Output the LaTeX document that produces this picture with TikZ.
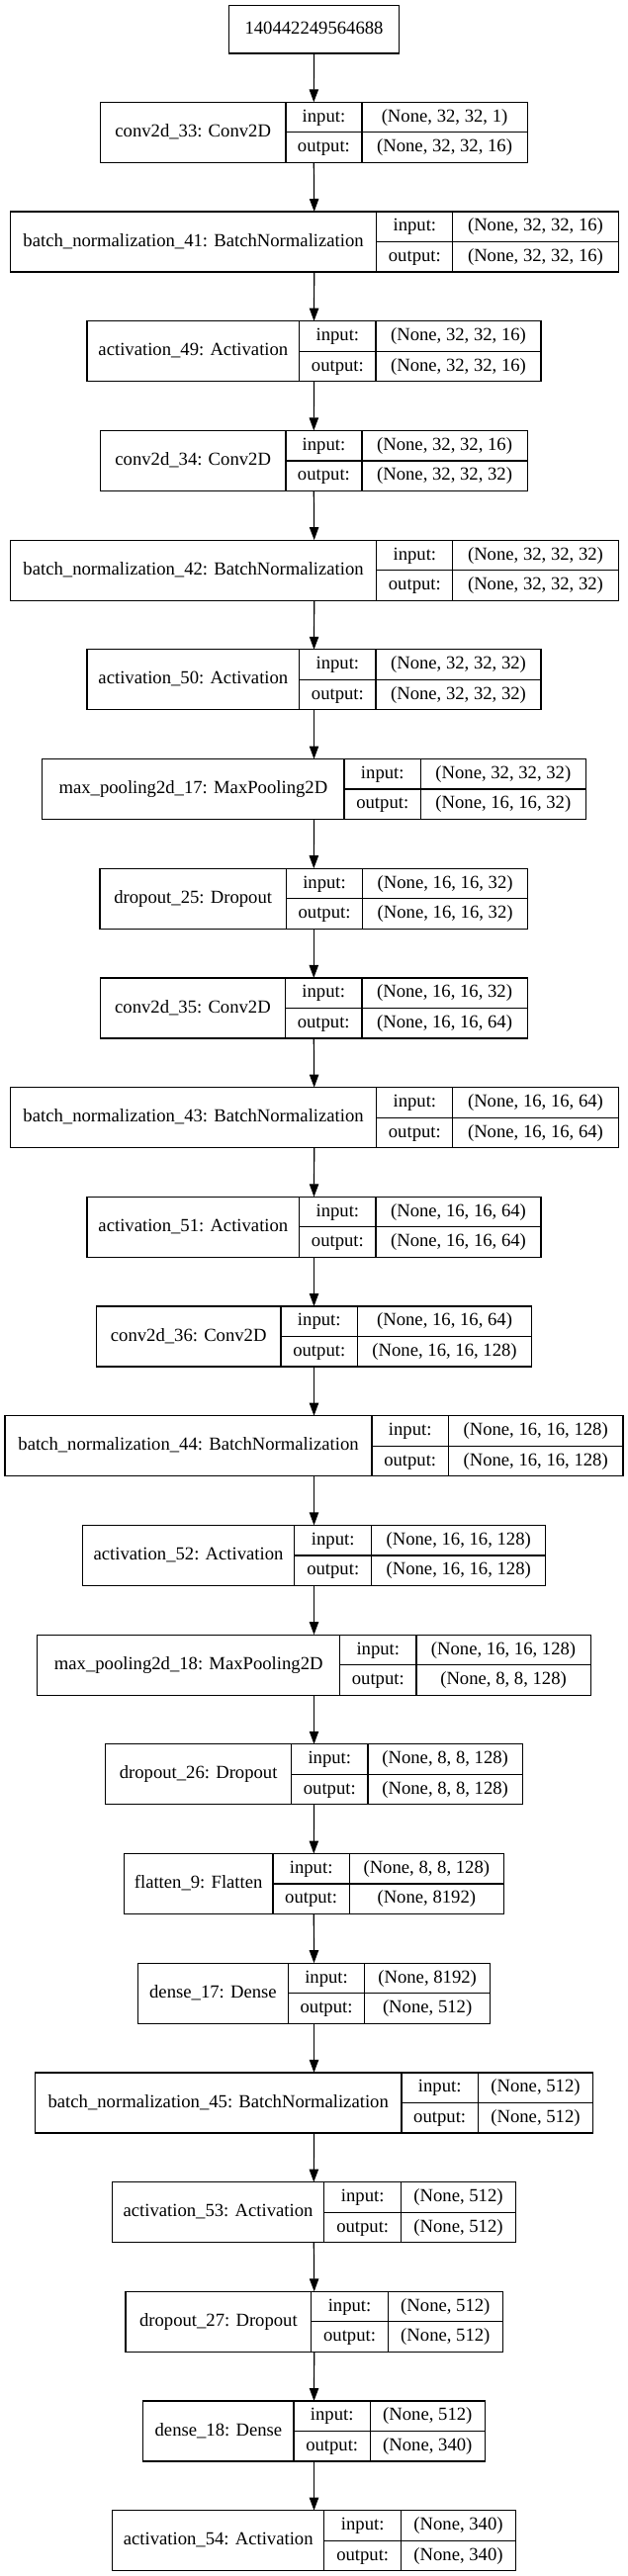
\documentclass[tikz,border=0pt]{standalone}
\usepackage{fontspec}
\setmainfont{Liberation Serif}
\usetikzlibrary{arrows.meta}
\tikzset{
  box/.style={draw=black, line width=0.9pt, inner sep=0pt, outer sep=0pt, rectangle},
  sepline/.style={draw=black, line width=0.9pt},
  txt/.style={inner sep=0pt, outer sep=0pt, text height=0.7em, text depth=0pt, font=\fontsize{14}{16}\selectfont},
  arr/.style={draw=black, line width=0.9pt, -{Triangle[length=9.75pt,width=7pt]}}
}
\newcommand\kerasLayer[9]{%
  \pgfmathsetmacro\yT{103.3+110.7*#2}%
  \pgfmathsetmacro\xL{317.5+(#3-783.5)*0.405}%
  \pgfmathsetmacro\xA{317.5+(#4-783.5)*0.405}%
  \pgfmathsetmacro\xB{317.5+(#5-783.5)*0.405}%
  \pgfmathsetmacro\xR{317.5+(#6-783.5)*0.405}%
  \pgfmathsetmacro\bw{(\xR-\xL)*0.75}%
  \pgfmathsetmacro\xM{(\xL+\xR)/2}%
  \pgfmathsetmacro\xN{(\xL+\xA)/2}%
  \pgfmathsetmacro\xI{(\xA+\xB)/2}%
  \pgfmathsetmacro\xS{(\xB+\xR)/2}%
  \node[box, minimum width=\bw pt, minimum height=45.75pt] (#1) at (\xM,\yT+30.5) {};
  \draw[sepline] (\xA,\yT) -- (\xA,\yT+61);
  \draw[sepline] (\xB,\yT) -- (\xB,\yT+61);
  \draw[sepline] (\xA,\yT+30.5) -- (\xR,\yT+30.5);
  \node[txt] (#1-name) at (\xN,\yT+30.5) {#7};
  \node[txt] (#1-inl) at (\xI,\yT+15.25) {input:};
  \node[txt] (#1-outl) at (\xI,\yT+45.75) {output:};
  \node[txt] (#1-in) at (\xS,\yT+15.25) {#8};
  \node[txt] (#1-out) at (\xS,\yT+45.75) {#9};
}
\begin{document}
\begin{tikzpicture}[x=0.75pt,y=-0.75pt]
\useasboundingbox (0,0) rectangle (635,2605);
\node[box, minimum width=129.4pt, minimum height=36.3pt] (top) at (317.5,29.85) {};
\node[txt] (top-t) at (317.5,29.85) {140442249564688};
\kerasLayer{conv33}{0}{250}{713}{903}{1316}{conv2d\_33: Conv2D}{(None, 32, 32, 1)}{(None, 32, 32, 16)}
\kerasLayer{bn41}{1}{25}{940}{1130}{1543}{batch\_normalization\_41: BatchNormalization}{(None, 32, 32, 16)}{(None, 32, 32, 16)}
\kerasLayer{act49}{2}{217}{747}{938}{1350}{activation\_49: Activation}{(None, 32, 32, 16)}{(None, 32, 32, 16)}
\kerasLayer{conv34}{3}{250}{713}{903}{1316}{conv2d\_34: Conv2D}{(None, 32, 32, 16)}{(None, 32, 32, 32)}
\kerasLayer{bn42}{4}{25}{940}{1130}{1543}{batch\_normalization\_42: BatchNormalization}{(None, 32, 32, 32)}{(None, 32, 32, 32)}
\kerasLayer{act50}{5}{217}{747}{938}{1350}{activation\_50: Activation}{(None, 32, 32, 32)}{(None, 32, 32, 32)}
\kerasLayer{mp17}{6}{105}{859}{1050}{1462}{max\_pooling2d\_17: MaxPooling2D}{(None, 32, 32, 32)}{(None, 16, 16, 32)}
\kerasLayer{do25}{7}{249}{714}{905}{1317}{dropout\_25: Dropout}{(None, 16, 16, 32)}{(None, 16, 16, 32)}
\kerasLayer{conv35}{8}{250}{712}{903}{1316}{conv2d\_35: Conv2D}{(None, 16, 16, 32)}{(None, 16, 16, 64)}
\kerasLayer{bn43}{9}{25}{940}{1130}{1543}{batch\_normalization\_43: BatchNormalization}{(None, 16, 16, 64)}{(None, 16, 16, 64)}
\kerasLayer{act51}{10}{217}{747}{938}{1350}{activation\_51: Activation}{(None, 16, 16, 64)}{(None, 16, 16, 64)}
\kerasLayer{conv36}{11}{240}{701}{892}{1327}{conv2d\_36: Conv2D}{(None, 16, 16, 64)}{(None, 16, 16, 128)}
\kerasLayer{bn44}{12}{12}{928}{1119}{1555}{batch\_normalization\_44: BatchNormalization}{(None, 16, 16, 128)}{(None, 16, 16, 128)}
\kerasLayer{act52}{13}{205}{735}{927}{1362}{activation\_52: Activation}{(None, 16, 16, 128)}{(None, 16, 16, 128)}
\kerasLayer{mp18}{14}{93}{848}{1039}{1474}{max\_pooling2d\_18: MaxPooling2D}{(None, 16, 16, 128)}{(None, 8, 8, 128)}
\kerasLayer{do26}{15}{263}{727}{918}{1304}{dropout\_26: Dropout}{(None, 8, 8, 128)}{(None, 8, 8, 128)}
\kerasLayer{flat9}{16}{309}{681}{872}{1257}{flatten\_9: Flatten}{(None, 8, 8, 128)}{(None, 8192)}
\kerasLayer{dense17}{17}{344}{719}{910}{1223}{dense\_17: Dense}{(None, 8192)}{(None, 512)}
\kerasLayer{bn45}{18}{87}{1002}{1193}{1480}{batch\_normalization\_45: BatchNormalization}{(None, 512)}{(None, 512)}
\kerasLayer{act53}{19}{279}{809}{1001}{1287}{activation\_53: Activation}{(None, 512)}{(None, 512)}
\kerasLayer{do27}{20}{313}{777}{968}{1255}{dropout\_27: Dropout}{(None, 512)}{(None, 512)}
\kerasLayer{dense18}{21}{357}{733}{924}{1210}{dense\_18: Dense}{(None, 512)}{(None, 340)}
\kerasLayer{act54}{22}{280}{809}{1001}{1287}{activation\_54: Activation}{(None, 340)}{(None, 340)}
\draw[arr] (top.south) -- (conv33.north);
\draw[arr] (conv33.south) -- (bn41.north);
\draw[arr] (bn41.south) -- (act49.north);
\draw[arr] (act49.south) -- (conv34.north);
\draw[arr] (conv34.south) -- (bn42.north);
\draw[arr] (bn42.south) -- (act50.north);
\draw[arr] (act50.south) -- (mp17.north);
\draw[arr] (mp17.south) -- (do25.north);
\draw[arr] (do25.south) -- (conv35.north);
\draw[arr] (conv35.south) -- (bn43.north);
\draw[arr] (bn43.south) -- (act51.north);
\draw[arr] (act51.south) -- (conv36.north);
\draw[arr] (conv36.south) -- (bn44.north);
\draw[arr] (bn44.south) -- (act52.north);
\draw[arr] (act52.south) -- (mp18.north);
\draw[arr] (mp18.south) -- (do26.north);
\draw[arr] (do26.south) -- (flat9.north);
\draw[arr] (flat9.south) -- (dense17.north);
\draw[arr] (dense17.south) -- (bn45.north);
\draw[arr] (bn45.south) -- (act53.north);
\draw[arr] (act53.south) -- (do27.north);
\draw[arr] (do27.south) -- (dense18.north);
\draw[arr] (dense18.south) -- (act54.north);
\end{tikzpicture}
\end{document}
